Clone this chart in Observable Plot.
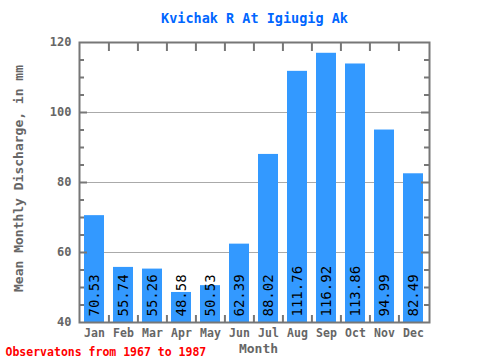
<!DOCTYPE html>
<html>
<head>
<meta charset="utf-8">
<script src="https://cdn.jsdelivr.net/npm/d3@7"></script>
<script src="https://cdn.jsdelivr.net/npm/@observablehq/plot@0.6"></script>
<style>
  html, body { margin: 0; padding: 0; background: #fff; }
</style>
</head>
<body>
<div id="chart"></div>
<script>
const months = ["Jan","Feb","Mar","Apr","May","Jun","Jul","Aug","Sep","Oct","Nov","Dec"];
const values = [70.53, 55.74, 55.26, 48.58, 50.53, 62.39, 88.02, 111.76, 116.92, 113.86, 94.99, 82.49];
const yTicks = [40, 60, 80, 100, 120];
const titleText = "Kvichak R At Igiugig Ak";
const yLabel = "Mean Monthly Discharge, in mm";
const xLabel = "Month";
const note = "Observatons from 1967 to 1987";

const data = months.map((m, i) => ({month: m, value: values[i]}));

const W = 480, H = 360;
const mL = 79, mR = 51, mT = 42, mB = 38;
const fw = W - mL - mR, fh = H - mT - mB;
const step = fw / months.length;
const mono = "'DejaVu Sans Mono', 'Liberation Mono', monospace";
const axisColor = "#777";

const minor = d3.range(45, 120, 5).filter(v => v % 20 !== 0);
const major = [60, 80, 100];

const chart = Plot.plot({
  width: W,
  height: H,
  marginLeft: mL,
  marginRight: mR,
  marginTop: mT,
  marginBottom: mB,
  style: {fontFamily: mono, fontSize: "11px", fontWeight: "bold", color: "#666", background: "#fff"},
  x: {domain: months, paddingInner: 0.3, paddingOuter: 0.15},
  y: {domain: [40, 120]},
  marks: [
    Plot.ruleY(major, {y: d => d, stroke: "#aaa", strokeWidth: 1}),
    Plot.barY(data, {x: "month", y1: 40, y2: "value", fill: "#3399ff"}),
    Plot.text(data, {x: "month", y: 40, text: d => d.value.toFixed(2), rotate: -90, textAnchor: "start", lineAnchor: "middle", dy: -6, fill: "#000", fontWeight: "normal", fontSize: 14, fontFamily: mono}),
    // y minor/major ticks, left and right, inside frame
    Plot.tickY(minor, {y: d => d, stroke: axisColor, strokeWidth: 2, insetRight: fw - 5}),
    Plot.tickY(major, {y: d => d, stroke: axisColor, strokeWidth: 2, insetRight: fw - 8}),
    Plot.tickY(minor, {y: d => d, stroke: axisColor, strokeWidth: 2, insetLeft: fw - 5}),
    Plot.tickY(major, {y: d => d, stroke: axisColor, strokeWidth: 2, insetLeft: fw - 8}),
    // x boundary ticks top and bottom
    Plot.tickX(months.slice(1), {x: d => d, dx: -step / 2, stroke: axisColor, strokeWidth: 2, insetBottom: fh - 9}),
    Plot.tickX(months.slice(1), {x: d => d, dx: -step / 2, stroke: axisColor, strokeWidth: 2, insetTop: fh - 7}),
    Plot.frame({stroke: axisColor, strokeWidth: 2}),
    Plot.axisX({tickSize: 0, tickPadding: 6, label: null, fill: "#666", fontSize: 11.5}),
    Plot.axisY({ticks: yTicks, tickSize: 0, tickPadding: 8, label: null, fill: "#666", fontSize: 12}),
    Plot.text([titleText], {frameAnchor: "top", lineAnchor: "middle", dy: -24, fill: "#0066ff", fontSize: 13.5, fontWeight: "bold", fontFamily: mono}),
    Plot.text([yLabel], {frameAnchor: "left", textAnchor: "middle", lineAnchor: "middle", rotate: -90, dx: -61, dy: -4, fill: "#666", fontSize: 13, fontWeight: "bold", fontFamily: mono}),
    Plot.text([xLabel], {frameAnchor: "bottom", textAnchor: "middle", lineAnchor: "middle", dy: 26, dx: 4, fill: "#666", fontSize: 13, fontWeight: "bold", fontFamily: mono}),
    Plot.text([note], {frameAnchor: "bottom-left", textAnchor: "start", lineAnchor: "middle", dx: -74, dy: 30, fill: "#ff0000", fontSize: 11.5, fontWeight: "bold", fontFamily: mono})
  ]
});
document.getElementById("chart").appendChild(chart);
</script>
</body>
</html>
